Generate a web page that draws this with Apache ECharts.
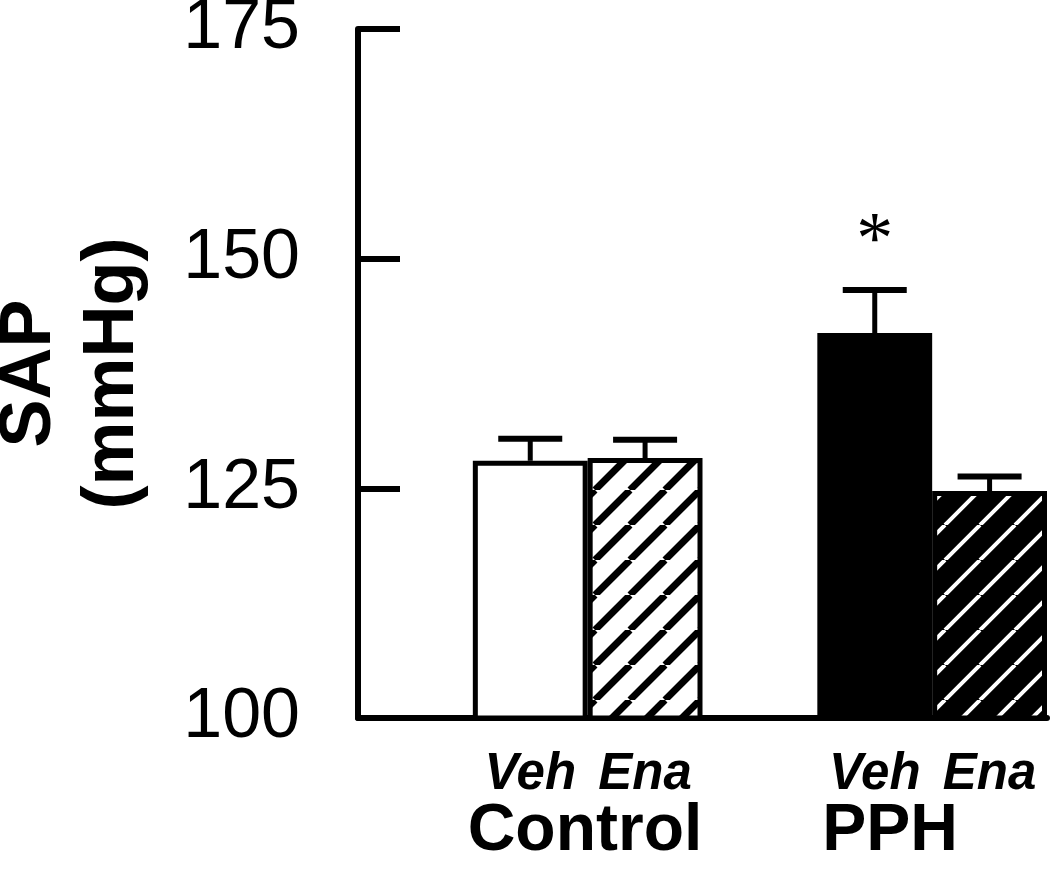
<!DOCTYPE html>
<html>
<head>
<meta charset="utf-8">
<script src="https://cdn.jsdelivr.net/npm/echarts@6/dist/echarts.min.js"></script>
<style>
html,body{margin:0;padding:0;background:#fff;}
#chart{width:1050px;height:885px;}
</style>
</head>
<body>
<div id="chart"></div>
<script>
// ---- data ----
const groups = ['Control', 'PPH'];
const treatments = ['Veh', 'Ena'];
const means = [128.0, 128.3, 141.9, 124.7];     // Control Veh, Control Ena, PPH Veh, PPH Ena
const sem = [2.4, 2.0, 4.7, 1.6];
const marks = ['', '', '*', ''];
const yTicks = [100, 125, 150, 175];

// ---- build slots: [gap, Veh, Ena, gap, Veh, Ena] ----
const slotLabels = [];
const barData = [];
const errData = [];
function hatch(bg, fg, lw) {
  const T = 35;
  const c = document.createElement('canvas');
  c.width = T; c.height = T;
  const g = c.getContext('2d');
  g.fillStyle = bg; g.fillRect(0, 0, T, T);
  g.strokeStyle = fg; g.lineWidth = lw;
  g.beginPath();
  [-T, 0, T].forEach(k => { g.moveTo(k, T); g.lineTo(k + T, 0); });
  g.stroke();
  return { image: c, repeat: 'repeat' };
}
const fills = ['#ffffff', hatch('#ffffff', '#000000', 7), '#000000', hatch('#000000', '#ffffff', 4)];
let idx = 0;
groups.forEach((gName, gi) => {
  slotLabels.push('');
  barData.push('-');
  treatments.forEach((t, ti) => {
    const slot = slotLabels.length;
    slotLabels.push(t);
    barData.push({ value: means[idx], itemStyle: { color: fills[idx] } });
    errData.push([slot, means[idx] + sem[idx], means[idx], marks[idx]]);
    idx++;
  });
});

const chart = echarts.init(document.getElementById('chart'));
chart.setOption({
  animation: false,
  backgroundColor: '#fff',
  grid: { left: 358, right: 3, top: 29, bottom: 167, outerBoundsMode: 'none', containLabel: false },
  xAxis: {
    type: 'category',
    data: slotLabels,
    axisLine: { lineStyle: { color: '#000', width: 6 } },
    axisTick: { show: false },
    axisLabel: {
      color: '#000', fontSize: 51, fontWeight: 'bold', fontStyle: 'italic',
      fontFamily: 'Liberation Sans, Arial, sans-serif', margin: 31, interval: 0
    }
  },
  yAxis: {
    type: 'value',
    min: yTicks[0], max: yTicks[yTicks.length - 1], interval: 25,
    name: 'SAP\n(mmHg)',
    nameLocation: 'middle',
    nameRotate: 90,
    nameGap: 203,
    nameTextStyle: {
      color: '#000', fontSize: 72, fontWeight: 'bold', lineHeight: 83,
      fontFamily: 'Liberation Sans, Arial, sans-serif'
    },
    splitLine: { show: false },
    axisLine: { show: true, lineStyle: { color: '#000', width: 6 } },
    axisTick: { show: true, inside: true, length: 42, lineStyle: { color: '#000', width: 6 } },
    axisLabel: {
      color: '#000', fontSize: 70, margin: 58,
      fontFamily: 'Liberation Sans, Arial, sans-serif'
    }
  },
  graphic: [
    { type: 'text', x: 585, y: 832, style: { text: groups[0], fill: '#000', font: 'bold 66px "Liberation Sans", Arial, sans-serif', textAlign: 'center', textVerticalAlign: 'middle' } },
    { type: 'text', x: 890, y: 832, style: { text: groups[1], fill: '#000', font: 'bold 66px "Liberation Sans", Arial, sans-serif', textAlign: 'center', textVerticalAlign: 'middle' } }
  ],
  series: [
    {
      type: 'bar',
      data: barData,
      barWidth: '100%',
      barCategoryGap: 0,
      itemStyle: { borderColor: '#000', borderWidth: 5 },
      z: 2
    },
    {
      type: 'custom',
      data: errData,
      encode: { x: 0, y: 1 },
      z: 3,
      renderItem: function (params, api) {
        const top = api.coord([api.value(0), api.value(1)]);
        const base = api.coord([api.value(0), api.value(2)]);
        const half = 32;
        const children = [
          { type: 'line', shape: { x1: top[0], y1: top[1], x2: base[0], y2: base[1] }, style: { stroke: '#000', lineWidth: 5 } },
          { type: 'line', shape: { x1: top[0] - half, y1: top[1], x2: top[0] + half, y2: top[1] }, style: { stroke: '#000', lineWidth: 6 } }
        ];
        const m = errData[params.dataIndex][3];
        if (m) {
          children.push({ type: 'text', x: top[0], y: top[1] - 46,
            style: { text: m, fill: '#000', font: '74px "Liberation Serif", "Times New Roman", serif', textAlign: 'center', textVerticalAlign: 'middle' } });
        }
        return { type: 'group', children: children };
      }
    }
  ]
});
</script>
</body>
</html>
